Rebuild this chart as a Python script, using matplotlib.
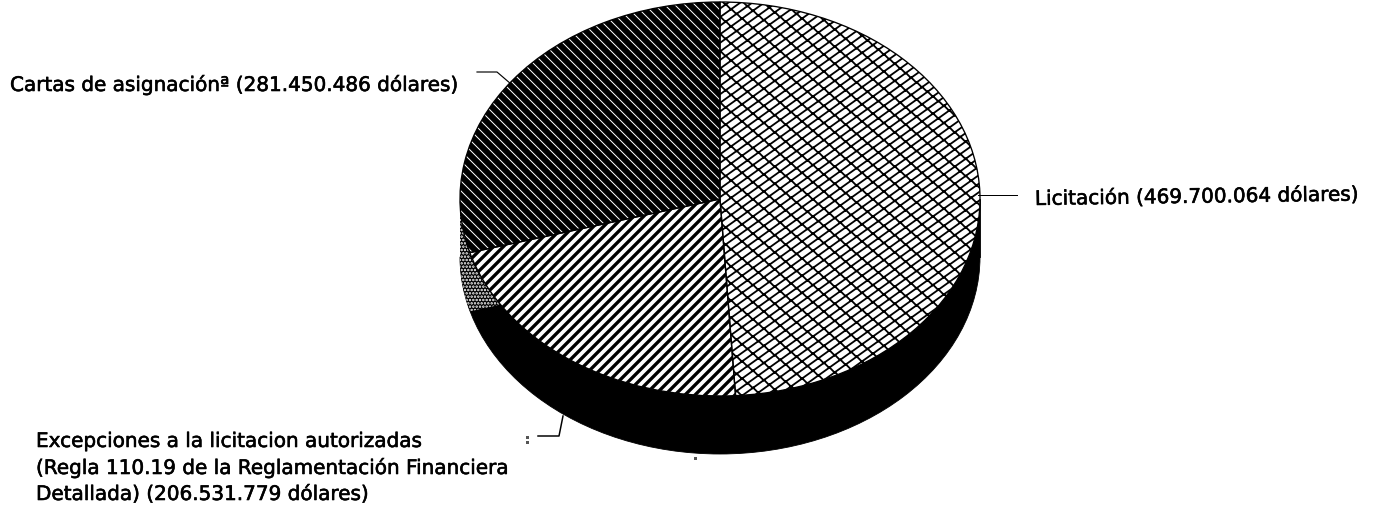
# -*- coding: utf-8 -*-
import numpy as np
import matplotlib
matplotlib.use('Agg')
import matplotlib.pyplot as plt
import matplotlib.hatch as mhatch
import matplotlib.patheffects as pe
from matplotlib.path import Path
from matplotlib.patches import Wedge, Rectangle

# millones de dolares
valores = [469.700064, 206.531779, 281.450486]
hatches = ['B', '////', '\\\\\\\\']
caras = ['white', 'white', 'black']
trama = ['black', 'black', 'white']
grosor = [1.1, 2.0, 0.6]


class LadrilloHatch(mhatch.HatchPatternBase):
    # trama de ladrillos en diagonal, como la del grafico original
    def __init__(self, hatch, density):
        self.activa = 'B' in hatch
        self.num_vertices = 0
        if self.activa:
            segs = []
            d, pend, largo = 1 / 14, 10 / 14, 1 / 11
            dx = d / (1 + pend)
            for k in range(-16, 17):
                segs.append(((-1.0, -pend + k * d), (2.0, 2 * pend + k * d)))
                for j in range(-1, 14):
                    x0 = j * largo + (k % 2) * largo / 2
                    segs.append(((x0, pend * x0 + k * d),
                                 (x0 - dx, pend * (x0 - dx) + (k + 1) * d)))
            self.segs = segs
            self.num_vertices = 2 * len(segs)

    def set_vertices_and_codes(self, vertices, codes):
        if self.activa:
            vertices[:] = np.array(self.segs).reshape(-1, 2)
            codes[0::2] = Path.MOVETO
            codes[1::2] = Path.LINETO


mhatch._hatch_types.append(LadrilloHatch)
mhatch._validate_hatch_pattern = lambda hatch: None

plt.rcParams['font.family'] = ['DejaVu Sans']

DPI = 120
fig = plt.figure(figsize=(1383 / DPI, 509 / DPI), dpi=DPI)

# centro y radios de la elipse en pixeles
cx, cy, rx, ry = 720, 200, 260, 197
prof = 58 / ry

ax = fig.add_axes([0, 0, 1, 1])

# pared lateral negra
ax.add_patch(Wedge((0, -prof), 1, 180, 360, fc='black', ec='black', lw=0.5))
ax.add_patch(Rectangle((-1, -prof), 2, prof, fc='black', ec='black', lw=0.5))
ax.add_patch(Wedge((0, -prof), 1, 180, 196, fc='black', ec='white', hatch='......', lw=0))
ax.add_patch(Rectangle((-1, -prof), 0.04, prof, fc='black', ec='white', hatch='......', lw=0))

wedges, _ = ax.pie(valores, startangle=90, counterclock=False, radius=1)
for w, h, c, t, g in zip(wedges, hatches, caras, trama, grosor):
    w.set_facecolor(c)
    w.set_edgecolor(t)
    w.set_hatch(h)
    w.set_linewidth(0)
    w._hatch_linewidth = g
contorno, _ = ax.pie(valores, startangle=90, counterclock=False, radius=1,
                     wedgeprops=dict(fc='none', ec='black', lw=0.8))

ax.set_aspect('auto')
ax.set_xlim(-cx / rx, (1383 - cx) / rx)
ax.set_ylim(-(509 - cy) / ry, cy / ry)
ax.axis('off')

# capa de textos en pixeles
ax2 = fig.add_axes([0, 0, 1, 1])
ax2.set_xlim(0, 1383)
ax2.set_ylim(509, 0)
ax2.axis('off')
ax2.patch.set_alpha(0)

ax2.plot([978, 1017], [196, 196], color='black', lw=0.6)
ax2.plot([477, 497, 511], [73, 73, 85], color='black', lw=0.7)
ax2.plot([538, 559, 563], [437, 437, 417], color='black', lw=0.9)
# motas del escaneado
ax2.plot([527, 527, 695], [438, 443, 459], ls='none', marker='s', ms=0.8, color='#555555')

fs = 12.0
grueso = [pe.withStroke(linewidth=0.35, foreground='black')]
textos = [(1035, 206, 'Licitación (469.700.064 dólares)', 0.8),
          (10, 92, 'Cartas de asignaciónª (281.450.486 dólares)', 0),
          (36, 448, 'Excepciones a la licitacion autorizadas', 0),
          (36, 475, '(Regla 110.19 de la Reglamentación Financiera', 0),
          (36, 501, 'Detallada) (206.531.779 dólares)', 0)]
for x, y, s, r in textos:
    ax2.text(x, y, s, fontsize=fs, va='baseline', ha='left', color='black',
             rotation=r, rotation_mode='anchor', path_effects=grueso)

fig.savefig('out.png', dpi=DPI, facecolor='white')
